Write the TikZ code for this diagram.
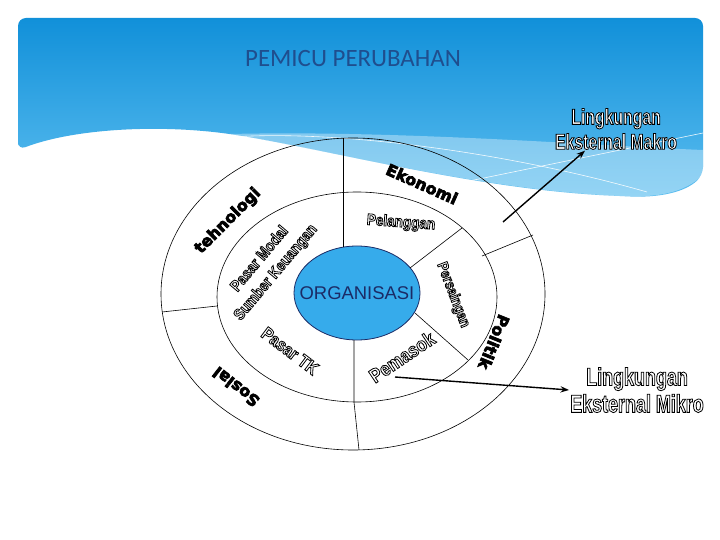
\documentclass[tikz,border=0pt]{standalone}
\usepackage{fontspec}
\usepackage{xcolor}
\usepackage{tikz}
\usetikzlibrary{positioning,arrows.meta,calc,shapes.geometric}
\setmainfont{Liberation Sans}
\newfontfamily\titlefont{Carlito}
\newfontfamily\heavyfont{DejaVu Sans}
\newfontfamily\narrowfont[FakeStretch=0.85]{Liberation Sans}
\newfontfamily\condfont[FakeStretch=0.72]{Liberation Sans}
\definecolor{slidetop}{HTML}{1190D9}
\definecolor{slidebot}{HTML}{5CBEF0}
\definecolor{titleblue}{HTML}{1F4E8E}
\definecolor{orgfill}{HTML}{36ABEB}
\definecolor{orgink}{HTML}{1B2B66}
% white letters with a thin black outline
\newcommand{\ghost}[1]{{\color{white}\special{pdf:literal direct 2 Tr 0.8 w 0 G}#1\special{pdf:literal direct 0 Tr}}}
% black letters, stroked a little heavier
\newcommand{\thick}[1]{{\special{pdf:literal direct 2 Tr 0.7 w 0 G}#1\special{pdf:literal direct 0 Tr}}}

\begin{document}
\begin{tikzpicture}[
  x=1bp, y=-1bp,
  ring/.style={draw=black, line width=0.6pt},
  heavy/.style={font=\heavyfont\bfseries\fontsize{16}{18}\selectfont, text=black, inner sep=0pt},
  ghost/.style={font=\narrowfont\bfseries\fontsize{16}{21}\selectfont, inner sep=0pt, align=center},
  outer/.style={font=\condfont\bfseries\fontsize{22}{25}\selectfont, inner sep=1pt, align=center},
  arr/.style={-{Stealth[length=3mm,width=2.2mm]}, line width=1.4pt, draw=black}
]
\useasboundingbox (0,0) rectangle (720,540);
\fill[white] (0,0) rectangle (720,540);

% header band
\shade[top color=slidetop, bottom color=slidebot, rounded corners=8bp]
  (18,150) -- (18,18) -- (703,18) -- (703,175)
  .. controls (685,192) and (660,198) .. (620,196)
  .. controls (480,190) and (330,150) .. (230,134)
  .. controls (150,124) and (70,130) .. (18,150) -- cycle;
\fill[white, opacity=0.35]
  (230,134) .. controls (330,150) and (480,190) .. (620,196)
  .. controls (660,198) and (685,192) .. (703,175)
  -- (703,150) .. controls (600,146) and (400,130) .. (230,134) -- cycle;
\draw[white, line width=0.6pt, opacity=0.9] (233,137) .. controls (330,130) and (500,150) .. (647,192);
\draw[white, line width=0.6pt, opacity=0.9] (440,187) -- (703,133);

\node[font=\titlefont\fontsize{25}{30}\selectfont, text=titleblue] (title) at (353,59) {PEMICU PERUBAHAN};

% rings
\draw[ring] (353,294) ellipse [x radius=192, y radius=156];
\draw[ring] (357,297) ellipse [x radius=140, y radius=105];
\node[ellipse, draw=orgink, line width=0.8pt, fill=orgfill, minimum width=126bp, minimum height=94bp,
  inner sep=0pt] (org) at (357,293) {};
\node[text=orgink, font=\fontsize{18.5}{20}\selectfont] (orgname) at (org) {ORGANISASI};

% sector lines
\draw[ring] (343,247) -- (343,138);
\draw[ring] (410,268) -- (462,228);
\draw[ring] (482,256) -- (533,235);
\draw[ring] (415,313) -- (468,360);
\draw[ring] (354,340) -- (354,402) -- (359,450);
\draw[ring] (162,312) -- (217,306);

% outer ring labels
\node[heavy, rotate=45] (tek) at (228,221) {\thick{tehnologi}};
\node[heavy, rotate=-24] (eko) at (422,184) {\thick{Ekonomi}};
\node[heavy, rotate=-112] (pol) at (494,342) {\thick{Politik}};
\node[heavy, rotate=142] (sos) at (236,387) {\thick{Sosial}};

% inner ring labels
\node[ghost, rotate=50] (modal) at (268,266) {\ghost{Pasar Modal}\\\ghost{Sumber Keuangan}};
\node[ghost, rotate=-4] (plg) at (401,223) {\ghost{Pelanggan}};
\node[ghost, rotate=-69, font=\narrowfont\bfseries\fontsize{15}{18}\selectfont] (saing) at (453,295) {\ghost{Persaingan}};
\node[ghost, rotate=34, font=\narrowfont\bfseries\fontsize{20}{24}\selectfont] (pasok) at (402,357) {\ghost{Pemasok}};
\node[ghost, rotate=-37, font=\narrowfont\bfseries\fontsize{18}{22}\selectfont] (tk) at (290,351) {\ghost{Pasar TK}};

% environment labels
\node[outer] (makro) at (616,129) {\ghost{Lingkungan}\\\ghost{Eksternal Makro}};
\node[outer, font=\condfont\bfseries\fontsize{25}{27}\selectfont] (mikro) at (637,390) {\ghost{Lingkungan}\\\ghost{Eksternal Mikro}};

\coordinate (makrofoot) at (503,222);
\coordinate (mikrofoot) at (395,377);
\draw[arr] (makrofoot) -- (makro.-145);
\draw[arr] (mikrofoot) -- (mikro.west);
\end{tikzpicture}
\end{document}
